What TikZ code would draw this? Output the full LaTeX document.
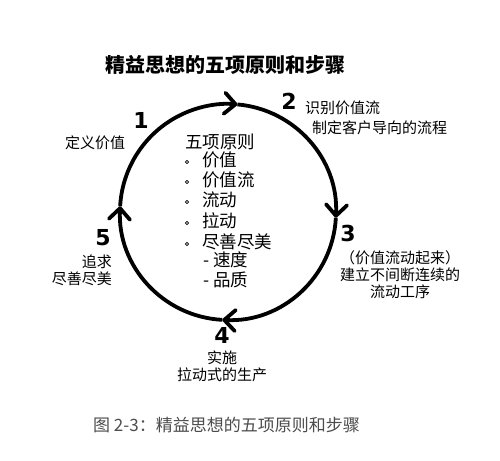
\documentclass[tikz,border=0pt]{standalone}
\usepackage{fontspec}
\setmainfont{Noto Sans CJK SC}
\newfontfamily\numfont{DejaVu Sans}
\usetikzlibrary{arrows.meta}
\begin{document}
\begin{tikzpicture}[x=1pt,y=-1pt,
  ring/.style={line width=3.8pt, -{Straight Barb[length=11pt,width=21pt,round]}},
  num/.style={font=\numfont\bfseries\fontsize{22}{22}\selectfont, inner sep=0pt},
  lbl/.style={font=\fontsize{15}{17}\selectfont, inner sep=0pt, align=center},
  item/.style={font=\fontsize{17.5}{20}\selectfont, inner sep=0pt, anchor=west},
  dotb/.style={circle, draw, line width=0.7pt, minimum size=3.2pt, inner sep=0pt}
]
\useasboundingbox (0,0) rectangle (500,460);
\fill[white] (0,0) rectangle (500,460);
\coordinate (C) at (228,212);
% cycle arcs
\draw[ring] ([shift={(-177:108)}]C) arc[start angle=-177,end angle=-85,radius=108];
\draw[ring] ([shift={(-85:108)}]C) arc[start angle=-85,end angle=3,radius=108];
\draw[ring] ([shift={(3:108)}]C) arc[start angle=3,end angle=93,radius=108];
\draw[ring] ([shift={(93:108)}]C) arc[start angle=93,end angle=183,radius=108];
% title
\node[font=\bfseries\fontsize{20}{24}\selectfont, inner sep=0pt] (title) at (225,65) {精益思想的五项原则和步骤};
% numbers and labels
\node[num] (n1) at (141,120) {1};
\node[lbl] (l1) at (95,143) {定义价值};
\node[num] (n2) at (289,101) {2};
\node[lbl, anchor=west] (l2a) at (305,108) {识别价值流};
\node[lbl, anchor=west] (l2b) at (312,128) {制定客户导向的流程};
\node[num] (n3) at (348,233) {3};
\node[lbl] (l3) at (400,275) {（价值流动起来）\\建立不间断连续的\\流动工序};
\node[num] (n4) at (222,335) {4};
\node[lbl] (l4) at (222,366.5) {实施\\拉动式的生产};
\node[num] (n5) at (103,238) {5};
\node[lbl, align=right, anchor=east] (l5) at (112,270) {追求\\尽善尽美};
% centre list
\node[item] (h) at (185,142) {五项原则};
\node[item] (i1) at (202,160) {价值};
\node[item] (i2) at (202,180) {价值流};
\node[item] (i3) at (202,200) {流动};
\node[item] (i4) at (202,221) {拉动};
\node[item] (i5) at (202,242) {尽善尽美};
\node[item] (s1) at (203,260) {- 速度};
\node[item] (s2) at (203,280) {- 品质};
\node[dotb] (b1) at (187,162) {};
\node[dotb] (b2) at (187,182) {};
\node[dotb] (b3) at (187,202) {};
\node[dotb] (b4) at (187,223) {};
\node[dotb] (b5) at (187,244) {};
% caption
\node[font=\fontsize{17}{20}\selectfont, text=black!70, anchor=west, inner sep=0pt] (cap) at (93,425) {图 2-3：精益思想的五项原则和步骤};
\end{tikzpicture}
\end{document}
